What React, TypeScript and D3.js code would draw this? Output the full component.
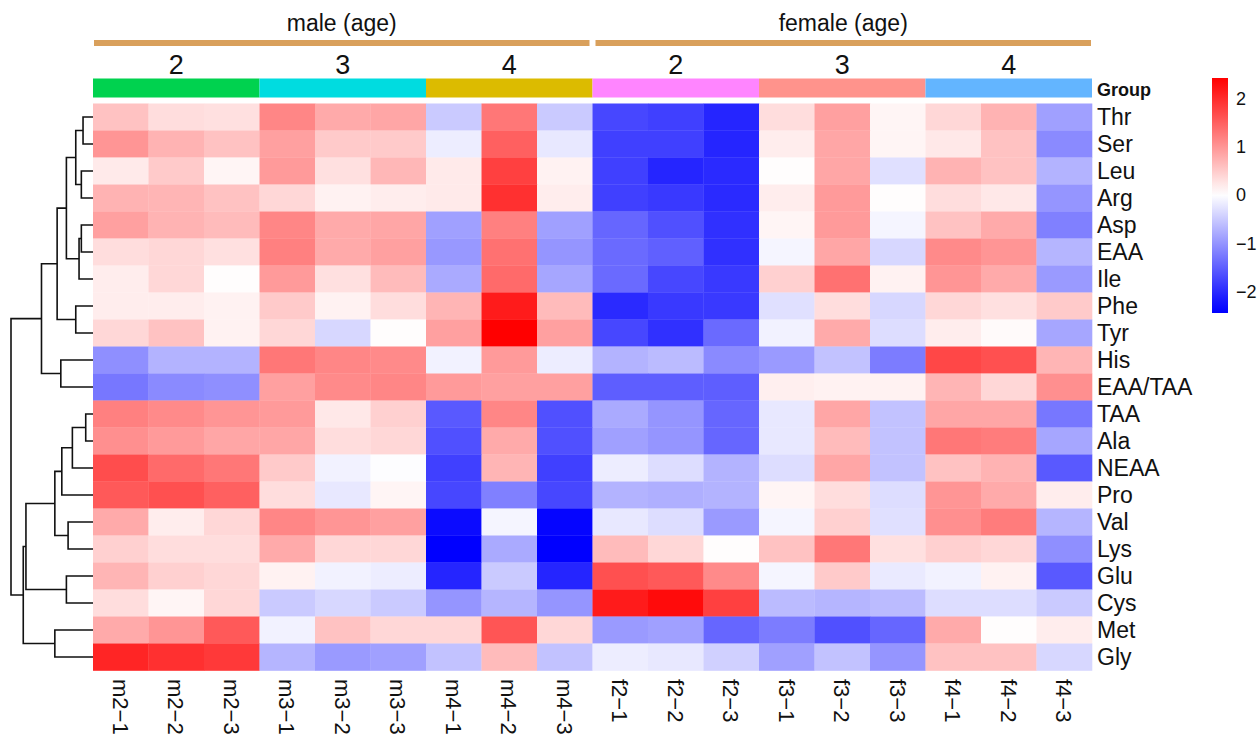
import React from "react";
import * as d3 from "d3";

// rows in heatmap order (top to bottom)
const rowNames = [
  "Thr", "Ser", "Leu", "Arg", "Asp", "EAA", "Ile", "Phe", "Tyr", "His", "EAA/TAA",
  "TAA", "Ala", "NEAA", "Pro", "Val", "Lys", "Glu", "Cys", "Met", "Gly",
];

const colNames = [
  "m2−1", "m2−2", "m2−3", "m3−1", "m3−2", "m3−3", "m4−1", "m4−2", "m4−3",
  "f2−1", "f2−2", "f2−3", "f3−1", "f3−2", "f3−3", "f4−1", "f4−2", "f4−3",
];

const ageLabels = ["2", "3", "4", "2", "3", "4"];
const groupColors = ["#00D24F", "#00DCE0", "#DCBB00", "#FF85FF", "#FF938C", "#63B5FF"];
const sexLabels = ["male (age)", "female (age)"];

// scaled values (z-score), one row per amino acid
const values = [
  [0.57, 0.32, 0.29, 1.14, 0.8, 0.84, -0.5, 1.28, -0.5, -1.73, -1.8, -2.05, 0.32, 0.89, 0.09, 0.38, 0.72, -0.89], // Thr
  [1.0, 0.72, 0.57, 0.89, 0.5, 0.5, -0.17, 1.5, -0.22, -1.8, -1.8, -2.05, 0.17, 0.84, 0.09, 0.22, 0.57, -1.1], // Ser
  [0.2, 0.5, 0.09, 0.95, 0.29, 0.68, 0.2, 1.8, 0.12, -1.8, -2.05, -2.0, 0.02, 0.84, -0.29, 0.72, 0.57, -0.72], // Leu
  [0.72, 0.7, 0.57, 0.38, 0.12, 0.17, 0.2, 1.95, 0.17, -1.8, -1.86, -2.0, 0.17, 0.95, 0.02, 0.32, 0.22, -1.0], // Arg
  [0.89, 0.72, 0.64, 1.14, 0.8, 0.84, -0.89, 1.2, -0.89, -1.44, -1.65, -1.95, 0.09, 0.95, -0.09, 0.57, 0.8, -1.2], // Asp
  [0.32, 0.38, 0.29, 1.2, 0.8, 0.89, -0.97, 1.34, -1.0, -1.4, -1.5, -1.95, -0.09, 0.84, -0.38, 1.1, 1.0, -0.7], // EAA
  [0.17, 0.38, 0.02, 0.95, 0.29, 0.64, -0.8, 1.4, -0.84, -1.4, -1.73, -1.86, 0.44, 1.34, 0.12, 1.0, 0.8, -0.95], // Ile
  [0.17, 0.17, 0.12, 0.5, 0.12, 0.32, 0.7, 2.15, 0.64, -2.0, -1.86, -1.86, -0.29, 0.32, -0.38, 0.38, 0.29, 0.5], // Phe
  [0.38, 0.57, 0.12, 0.38, -0.38, 0.02, 0.89, 2.4, 0.89, -1.73, -1.95, -1.4, -0.12, 0.8, -0.32, 0.17, 0.05, -0.84], // Tyr
  [-1.05, -0.72, -0.72, 1.28, 1.14, 1.1, -0.12, 0.95, -0.17, -0.72, -0.64, -1.1, -0.95, -0.57, -1.23, 1.73, 1.65, 0.7], // His
  [-1.28, -1.1, -1.05, 0.89, 1.1, 1.14, 0.95, 0.89, 0.89, -1.52, -1.52, -1.52, 0.15, 0.12, 0.12, 0.7, 0.38, 1.05], // EAA/TAA
  [1.2, 1.1, 1.0, 0.95, 0.22, 0.44, -1.56, 1.14, -1.65, -0.8, -1.0, -1.44, -0.22, 0.84, -0.57, 0.84, 0.84, -1.28], // TAA
  [1.05, 0.95, 0.84, 0.84, 0.32, 0.38, -1.65, 0.8, -1.65, -0.89, -1.0, -1.44, -0.22, 0.64, -0.57, 1.28, 1.23, -0.84], // Ala
  [1.68, 1.4, 1.28, 0.5, -0.12, -0.02, -1.8, 0.7, -1.8, -0.17, -0.32, -0.72, -0.32, 0.84, -0.57, 0.57, 0.72, -1.56], // NEAA
  [1.56, 1.65, 1.5, 0.32, -0.22, 0.09, -1.73, -1.2, -1.73, -0.72, -0.75, -0.72, 0.09, 0.32, -0.32, 1.0, 0.8, 0.17], // Pro
  [0.8, 0.17, 0.38, 1.14, 1.0, 0.89, -2.3, -0.09, -2.35, -0.22, -0.32, -0.95, -0.09, 0.44, -0.29, 1.05, 1.23, -0.7], // Val
  [0.44, 0.32, 0.32, 0.8, 0.38, 0.38, -2.4, -0.8, -2.4, 0.64, 0.38, 0.02, 0.57, 1.28, 0.29, 0.44, 0.38, -1.05], // Lys
  [0.7, 0.44, 0.38, 0.12, -0.12, -0.17, -2.05, -0.5, -2.05, 1.65, 1.56, 1.1, -0.09, 0.5, -0.2, -0.12, 0.12, -1.56], // Glu
  [0.32, 0.09, 0.38, -0.5, -0.38, -0.5, -1.0, -0.7, -1.0, 2.15, 2.3, 1.8, -0.64, -0.7, -0.64, -0.32, -0.32, -0.5], // Cys
  [0.8, 1.0, 1.56, -0.12, 0.57, 0.38, 0.38, 1.6, 0.38, -0.95, -0.89, -1.44, -1.23, -1.65, -1.44, 0.8, 0.02, 0.17], // Met
  [2.05, 1.95, 1.86, -0.7, -0.95, -0.89, -0.57, 0.64, -0.57, -0.17, -0.22, -0.44, -0.89, -0.57, -1.0, 0.57, 0.57, -0.38], // Gly
];

// row clustering, hclust style: negative = leaf (1-based), positive = earlier merge
const merges: [number, number, number][] = [
  [-1, -2, 10], [-3, -4, 11.7], [1, 2, 17.3], [-5, -6, 11.7], [4, -7, 14],
  [3, 5, 26.7], [-8, -9, 17.3], [6, 7, 36], [-10, -11, 32.3], [8, 9, 51.7],
  [-12, -13, 7.3], [11, -14, 20.7], [12, -15, 31.3], [-16, -17, 25], [13, 14, 38.3],
  [-18, -19, 26.7], [15, 16, 67.3], [-20, -21, 38.3], [17, 18, 70], [10, 19, 82.3],
];

const legendTicks = [-2, -1, 0, 1, 2];

const FONT = "'Liberation Sans', Arial, Helvetica, sans-serif";

const App = () => {
  const left = 93, right = 1092, top = 103.5, bottom = 670.5;

  const x = d3.scaleBand<string>().domain(colNames).range([left, right]);
  const y = d3.scaleBand<string>().domain(rowNames).range([top, bottom]);
  const color = d3.scaleLinear<string>()
    .domain([-2.4, 0, 2.4])
    .range(["#0000FF", "#FFFFFF", "#FF0000"])
    .clamp(true);

  // dendrogram
  const maxH = d3.max(merges, (m) => m[2]) as number;
  const hx = d3.scaleLinear().domain([0, maxH]).range([left, 11]);
  const nodes: { y: number; h: number }[] = [];
  const pos = (id: number) =>
    id < 0 ? { y: (y(rowNames[-id - 1]) as number) + y.bandwidth() / 2, h: 0 } : nodes[id - 1];
  const links: string[] = [];
  merges.forEach(([a, b, h]) => {
    const pa = pos(a), pb = pos(b);
    links.push(`M${hx(pa.h)},${pa.y}H${hx(h)}V${pb.y}H${hx(pb.h)}`);
    nodes.push({ y: (pa.y + pb.y) / 2, h });
  });

  // legend
  const ly = d3.scaleLinear().domain([-2.45, 2.42]).range([313, 78]);
  const gradStops = d3.range(0, 1.0001, 0.05).map((t) => ({
    offset: t,
    c: color(-2.45 + t * (2.42 + 2.45)),
  }));

  const blockW = x.bandwidth() * 3;

  return (
    <svg width={1260} height={740} style={{ position: "absolute", left: 0, top: 0 }} fontFamily={FONT}>
      <rect width={1260} height={740} fill="#fff" />
      <defs>
        <linearGradient id="lg" x1="0" y1="1" x2="0" y2="0">
          {gradStops.map((s, i) => (
            <stop key={i} offset={s.offset} stopColor={s.c} />
          ))}
        </linearGradient>
      </defs>

      {/* sex bars */}
      {sexLabels.map((s, i) => {
        const x0 = left + i * blockW * 3 + (i === 0 ? 1 : 3);
        const x1 = left + (i + 1) * blockW * 3 - (i === 0 ? 3 : 1);
        return (
          <g key={s}>
            <rect x={x0} y={40} width={x1 - x0} height={6} fill="#D9A05C" />
            <text x={(x0 + x1) / 2} y={31} fontSize={23} textAnchor="middle" fill="#111">
              {s}
            </text>
          </g>
        );
      })}

      {/* age labels and group colour bar */}
      {ageLabels.map((a, i) => (
        <g key={i}>
          <text x={left + i * blockW + blockW / 2} y={74} fontSize={27} textAnchor="middle" fill="#111">
            {a}
          </text>
          <rect x={left + i * blockW} y={78.5} width={blockW} height={19} fill={groupColors[i]} />
        </g>
      ))}
      <text x={1097} y={95.5} fontSize={18} fontWeight="bold" fill="#111">Group</text>

      {/* heatmap cells */}
      {values.map((row, r) =>
        row.map((v, c) => (
          <rect
            key={`${r}-${c}`}
            x={x(colNames[c])}
            y={y(rowNames[r])}
            width={x.bandwidth() + 0.3}
            height={y.bandwidth() + 0.3}
            fill={color(v)}
          />
        ))
      )}

      {/* row labels */}
      {rowNames.map((n) => (
        <text
          key={n}
          x={1097}
          y={(y(n) as number) + y.bandwidth() / 2}
          dy="0.36em"
          fontSize={23}
          fill="#111"
        >
          {n}
        </text>
      ))}

      {/* column labels */}
      {colNames.map((n) => {
        const cx = (x(n) as number) + x.bandwidth() / 2;
        return (
          <text
            key={n}
            transform={`translate(${cx},679) rotate(90)`}
            dy="0.36em"
            fontSize={22}
            fill="#111"
          >
            {n}
          </text>
        );
      })}

      {/* dendrogram */}
      <g fill="none" stroke="#111" strokeWidth={1.6}>
        {links.map((d, i) => (
          <path key={i} d={d} />
        ))}
      </g>

      {/* legend */}
      <rect x={1212} y={78} width={16} height={235} fill="url(#lg)" />
      {legendTicks.map((t) => (
        <text key={t} x={1236} y={ly(t)} dy="0.36em" fontSize={18} fill="#111">
          {t < 0 ? `−${Math.abs(t)}` : t}
        </text>
      ))}
    </svg>
  );
};

export default App;
